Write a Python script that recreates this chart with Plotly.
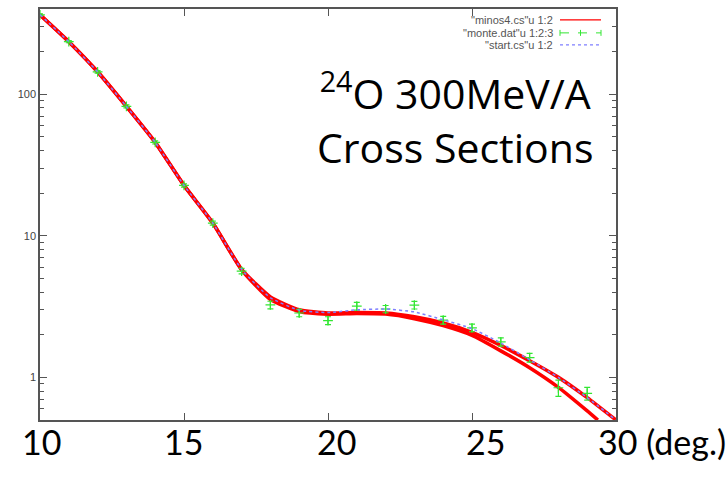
import plotly.graph_objects as go

# Scattering angle (deg) and differential cross sections
angle = [10, 11, 12, 13, 14, 15, 16, 17, 18, 19, 20, 21, 22, 23, 24, 25, 26, 27, 28, 29, 30]

# minos4.cs: two fitted branches
minos_upper = [364, 235, 144, 82, 45.7, 22.7, 12.3, 5.8, 3.7, 3.0, 2.85, 2.87, 2.85, 2.68,
               2.42, 2.08, 1.68, 1.31, 1.0, 0.72, 0.5]
angle_lower = [10, 11, 12, 13, 14, 15, 16, 17, 18, 19, 20, 21, 22, 23, 24, 25, 26, 27, 28, 29, 29.37]
minos_lower = [364, 235, 144, 82, 45.7, 22.7, 12.3, 5.75, 3.55, 2.92, 2.8, 2.83, 2.8, 2.6,
               2.32, 1.98, 1.54, 1.17, 0.85, 0.58, 0.5]

# start.cs
start_cs = [364, 235, 144, 82, 45.7, 22.7, 12.3, 5.8, 3.65, 2.98, 2.87, 3.0, 3.04, 2.9,
            2.55, 2.21, 1.75, 1.33, 1.0, 0.72, 0.5]

# monte.dat with errors
monte_x = [10, 11, 12, 13, 14, 15, 16, 17, 18, 19, 20, 21, 22, 23, 24, 25, 26, 27, 28, 29]
monte_y = [364, 235, 144, 82, 45.7, 22.7, 12.3, 5.63, 3.25, 2.85, 2.52, 3.19, 3.04, 3.24,
           2.54, 2.24, 1.78, 1.38, 0.845, 0.77]
monte_err = [5, 4, 3, 2, 1.2, 0.6, 0.4, 0.25, 0.2, 0.17, 0.16, 0.2, 0.18, 0.2, 0.16, 0.14,
             0.12, 0.1, 0.11, 0.08]

x_ticks = [10, 15, 20, 25, 30]
y_ticks = [1, 10, 100]
y_minor = [0.5, 0.6, 0.7, 0.8, 0.9, 2, 3, 4, 5, 6, 7, 8, 9,
           20, 30, 40, 50, 60, 70, 80, 90, 200, 300, 400]

legend_labels = ['"minos4.cs"u 1:2', '"monte.dat"u 1:2:3', '"start.cs"u 1:2']
title_text = "<sup>24</sup>O 300MeV/A<br>Cross Sections"
bottom_labels = ["10", "15", "20", "25", "30 (deg.)"]

RED = "#ff0000"
GREEN = "#33e633"
BLUE = "#7f7fff"
FRAME = "#555555"

W, H = 728, 486
L, R, T, B = 40, 112, 7, 66
PW, PH = W - L - R, H - T - B


def px(xp):
    return (xp - L) / PW


def py(yp):
    return (H - B - yp) / PH


fig = go.Figure()

curve = dict(color=RED, width=3.6, shape="spline", smoothing=0.5)
fig.add_trace(go.Scatter(x=angle, y=minos_upper, mode="lines", line=curve, showlegend=False, hoverinfo="skip"))
fig.add_trace(go.Scatter(x=angle_lower, y=minos_lower, mode="lines", line=curve, showlegend=False, hoverinfo="skip"))
fig.add_trace(go.Scatter(x=monte_x, y=monte_y, mode="markers",
                         marker=dict(symbol="cross-thin", size=7, line=dict(color=GREEN, width=1.2), color=GREEN),
                         error_y=dict(type="data", array=monte_err, color=GREEN, thickness=1.2, width=3),
                         showlegend=False, hoverinfo="skip"))
fig.add_trace(go.Scatter(x=angle, y=start_cs, mode="lines",
                         line=dict(color=BLUE, width=1.5, dash="dot", shape="spline", smoothing=0.5),
                         showlegend=False, hoverinfo="skip"))

shapes = []
annotations = []

# key, drawn gnuplot style: label on the left, sample on the right
rows_y = [18, 31, 43]
for label, yp in zip(legend_labels, rows_y):
    annotations.append(dict(x=px(555), y=py(yp), xref="paper", yref="paper", text=label, showarrow=False,
                            xanchor="right", yanchor="middle",
                            font=dict(family="Liberation Sans, Arial", size=11, color="#555555")))
shapes.append(dict(type="line", xref="paper", yref="paper", x0=px(560), x1=px(601), y0=py(rows_y[0]), y1=py(rows_y[0]),
                   line=dict(color=RED, width=1.2)))
shapes.append(dict(type="line", xref="paper", yref="paper", x0=px(560), x1=px(601), y0=py(rows_y[1]), y1=py(rows_y[1]),
                   line=dict(color=GREEN, width=1, dash="dash")))
for xp in (560, 580.5, 601):
    shapes.append(dict(type="line", xref="paper", yref="paper", x0=px(xp), x1=px(xp),
                       y0=py(rows_y[1] - 3), y1=py(rows_y[1] + 3), line=dict(color=GREEN, width=1)))
shapes.append(dict(type="line", xref="paper", yref="paper", x0=px(560), x1=px(601), y0=py(rows_y[2]), y1=py(rows_y[2]),
                   line=dict(color=BLUE, width=1.2, dash="dot")))

annotations.append(dict(x=px(455), y=py(117), xref="paper", yref="paper", text=title_text,
                        showarrow=False, xanchor="center", yanchor="middle", align="center",
                        font=dict(family="Open Sans, Lato, sans-serif", size=41, color="black")))

BIG = "Lato, Open Sans, sans-serif"
bottom_x = [41, 183, 336, 485]
for lab, xp in zip(bottom_labels[:4], bottom_x):
    annotations.append(dict(x=px(xp), y=py(442), xref="paper", yref="paper", text=lab, showarrow=False,
                            xanchor="center", yanchor="middle", font=dict(family=BIG, size=34, color="black")))
annotations.append(dict(x=px(596), y=py(442), xref="paper", yref="paper", text=bottom_labels[4], showarrow=False,
                        xanchor="left", yanchor="middle", font=dict(family=BIG, size=34, color="black")))

fig.update_layout(
    width=W, height=H,
    margin=dict(l=L, r=R, t=T, b=B),
    paper_bgcolor="white", plot_bgcolor="white",
    shapes=shapes, annotations=annotations,
    xaxis=dict(range=[10, 30], tickvals=x_ticks, ticks="inside", ticklen=7, tickcolor=FRAME, tickwidth=1,
               showline=True, linecolor=FRAME, linewidth=1.5, mirror="ticks", showgrid=False, zeroline=False,
               showticklabels=False),
    yaxis=dict(type="log", range=[-0.30103, 2.60206], tickvals=y_ticks, ticktext=["1", "10", "100"],
               ticks="inside", ticklen=7, tickcolor=FRAME, tickwidth=1,
               showline=True, linecolor=FRAME, linewidth=1.5, mirror="ticks", showgrid=False, zeroline=False,
               tickfont=dict(family="Liberation Sans, Arial", size=11, color="#444444"),
               minor=dict(tickvals=y_minor, ticks="inside", ticklen=4, tickcolor=FRAME, showgrid=False)),
)

fig.write_html("out.html")
